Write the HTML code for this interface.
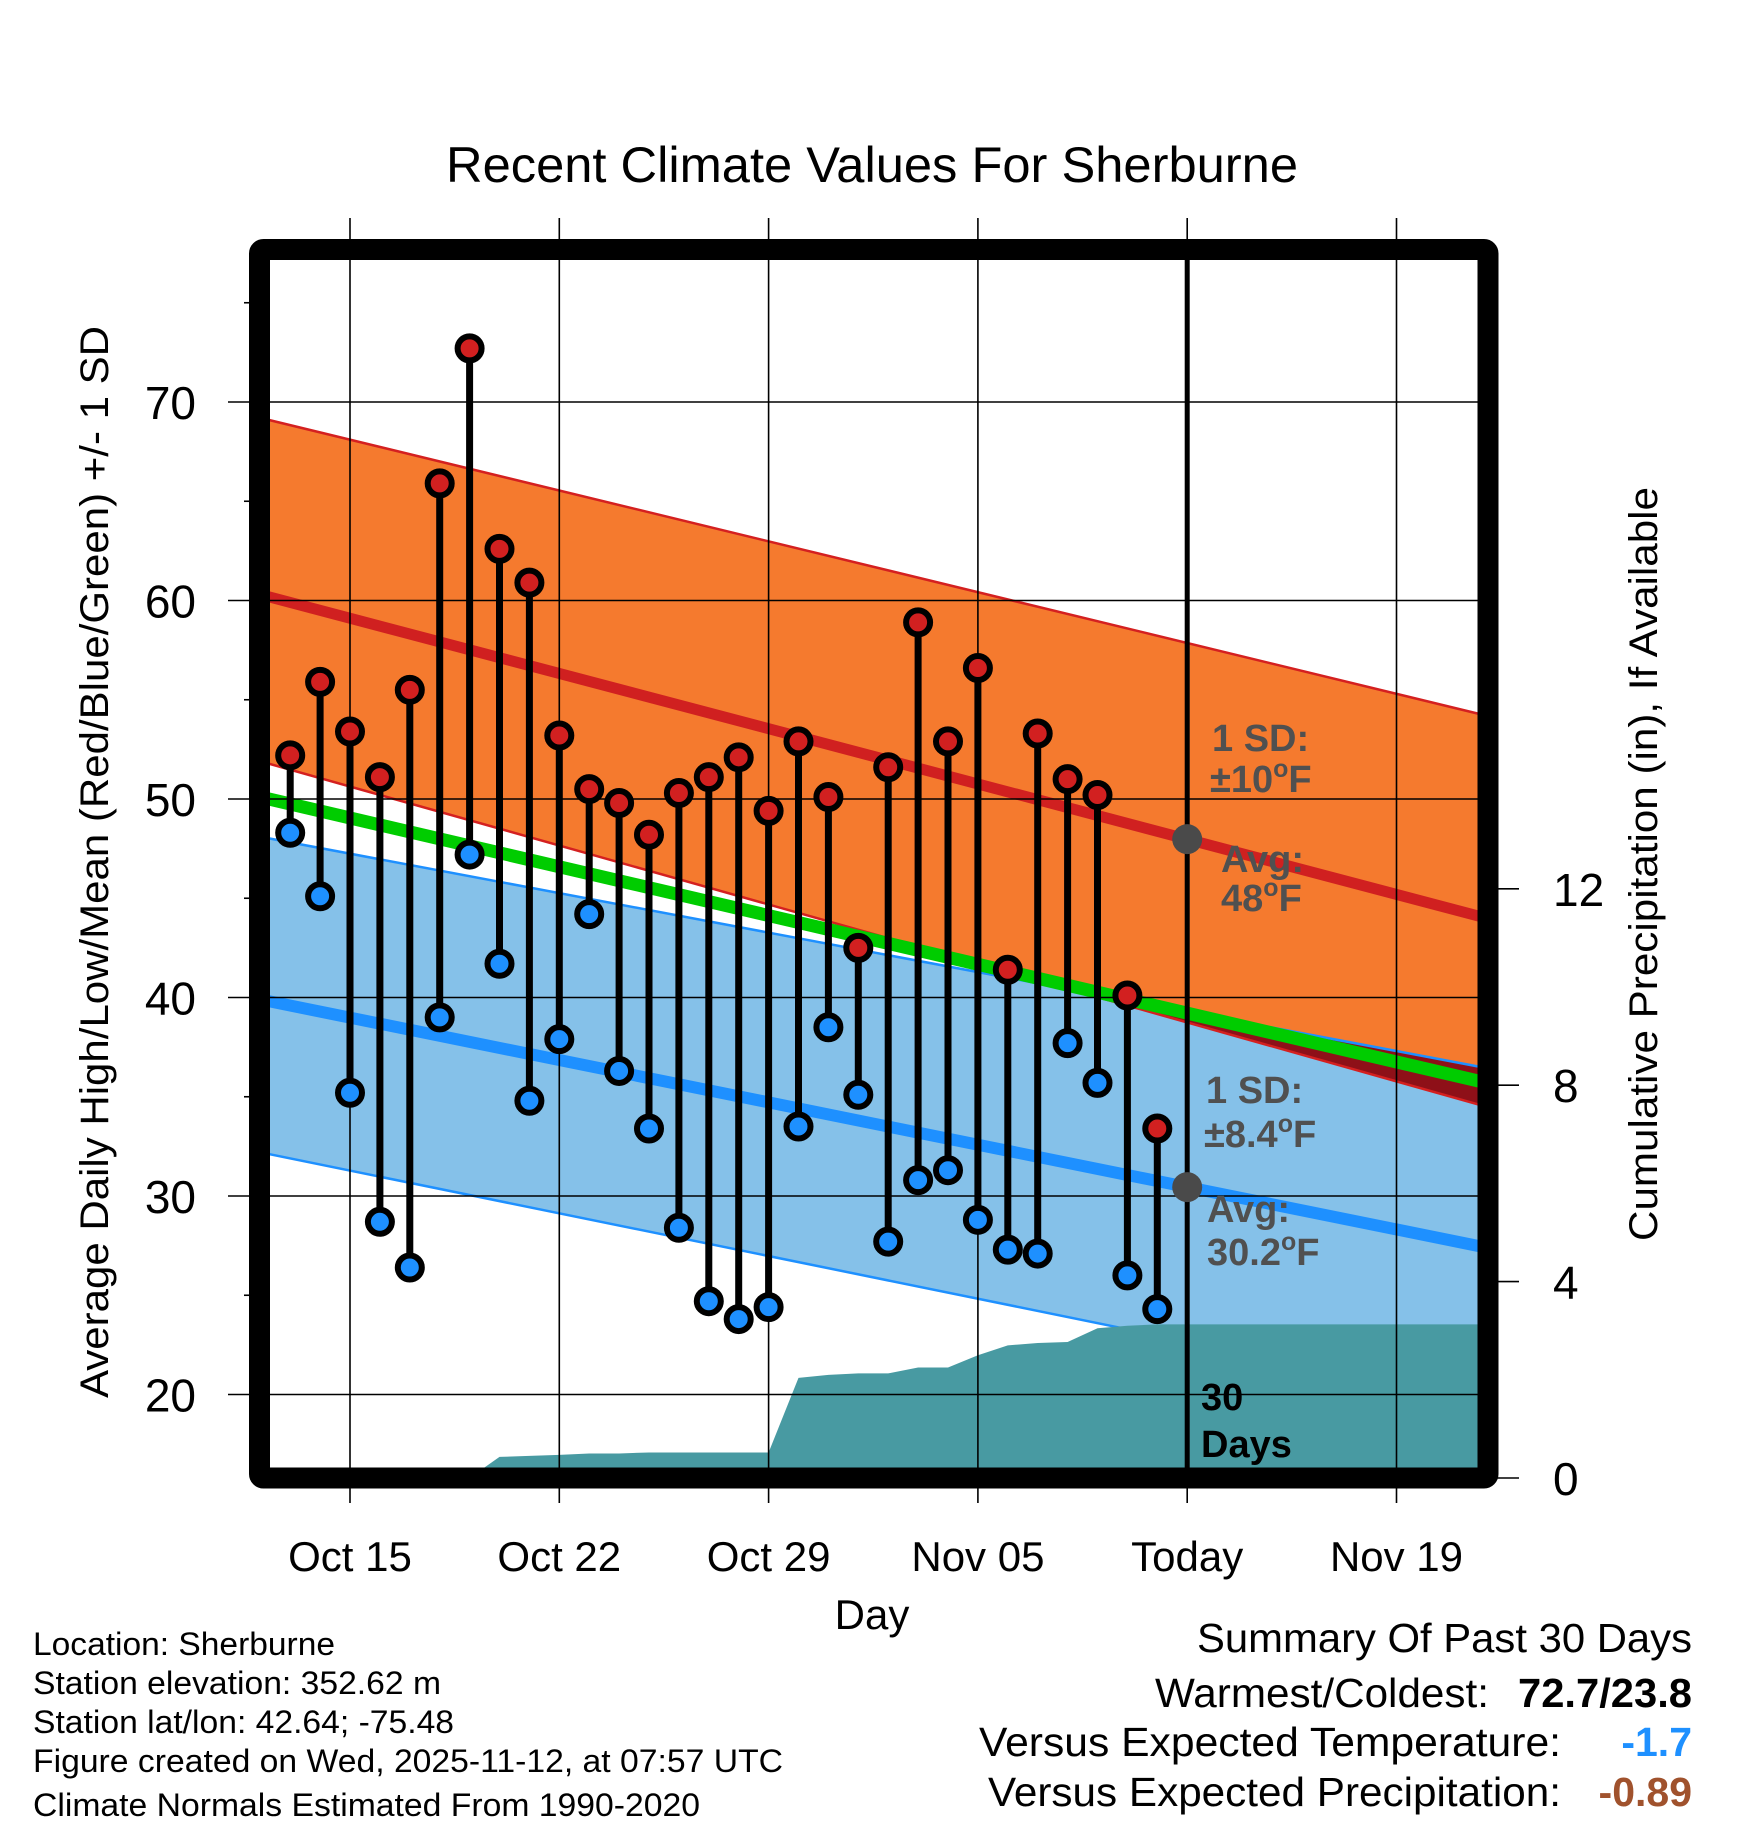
<!DOCTYPE html>
<html><head><meta charset="utf-8">
<style>html,body{margin:0;padding:0;background:#fff;}svg{display:block;font-family:"Liberation Sans",Arial,sans-serif;}</style>
</head><body>
<svg id="chart" width="1748" height="1828" viewBox="0 0 1748 1828" xmlns="http://www.w3.org/2000/svg">
<text x="872" y="182" font-size="50" text-anchor="middle" textLength="852" lengthAdjust="spacingAndGlyphs">Recent Climate Values For Sherburne</text>
<g id="layers"></g>
<text transform="translate(108,862) rotate(-90)" font-size="40" text-anchor="middle" textLength="1072" lengthAdjust="spacingAndGlyphs">Average Daily High/Low/Mean (Red/Blue/Green) +/- 1 SD</text>
<text transform="translate(1657,864) rotate(-90)" font-size="40" text-anchor="middle" textLength="754" lengthAdjust="spacingAndGlyphs">Cumulative Precipitation (in), If Available</text>
<text x="872" y="1629" font-size="42" text-anchor="middle">Day</text>
<g font-size="32">
<text x="33" y="1655" textLength="302" lengthAdjust="spacingAndGlyphs">Location: Sherburne</text>
<text x="33" y="1694" textLength="408" lengthAdjust="spacingAndGlyphs">Station elevation: 352.62 m</text>
<text x="33" y="1733" textLength="421" lengthAdjust="spacingAndGlyphs">Station lat/lon: 42.64; -75.48</text>
<text x="33" y="1772" textLength="750" lengthAdjust="spacingAndGlyphs">Figure created on Wed, 2025-11-12, at 07:57 UTC</text>
<text x="33" y="1816" textLength="667" lengthAdjust="spacingAndGlyphs">Climate Normals Estimated From 1990-2020</text>
</g>
<g font-size="41">
<text x="1692" y="1652" text-anchor="end" textLength="495" lengthAdjust="spacingAndGlyphs">Summary Of Past 30 Days</text>
<text x="1489" y="1707" text-anchor="end" textLength="334" lengthAdjust="spacingAndGlyphs">Warmest/Coldest:</text>
<text x="1692" y="1707" text-anchor="end" font-weight="bold" textLength="174" lengthAdjust="spacingAndGlyphs">72.7/23.8</text>
<text x="1561" y="1756" text-anchor="end" textLength="582" lengthAdjust="spacingAndGlyphs">Versus Expected Temperature:</text>
<text x="1692" y="1756" text-anchor="end" font-weight="bold" fill="#1e90ff">-1.7</text>
<text x="1561" y="1806" text-anchor="end" textLength="573" lengthAdjust="spacingAndGlyphs">Versus Expected Precipitation:</text>
<text x="1692" y="1806" text-anchor="end" font-weight="bold" fill="#a0522d">-0.89</text>
</g>
</svg>
<script>
// Data: day index 0 = Oct 12
const obsStartDay = 1; // Oct 13
const highs = [52.2,55.9,53.4,51.1,55.5,65.9,72.7,62.6,60.9,53.2,50.5,49.8,48.2,50.3,51.1,52.1,49.4,52.9,50.1,42.5,51.6,58.9,52.9,56.6,41.4,53.3,51.0,50.2,40.1,33.4];
const lows  = [48.3,45.1,35.2,28.7,26.4,39.0,47.2,41.7,34.8,37.9,44.2,36.3,33.4,28.4,24.7,23.8,24.4,33.5,38.5,35.1,27.7,30.8,31.3,28.8,27.3,27.1,37.7,35.7,26.0,24.3];
const precip = [0,0,0,0,0,0,0,0.43,0.45,0.47,0.50,0.50,0.52,0.52,0.52,0.52,0.52,2.04,2.10,2.13,2.13,2.25,2.25,2.50,2.70,2.75,2.77,3.05,3.10,3.13];
// Normals at left edge (Oct 12) and right edge (Nov 22)
const hiAvgEnds = [60.3, 44.0];
const hiUpperEnds = [69.2, 54.2];
const hiLowerEnds = [51.9, 34.5];
const loAvgEnds = [39.9, 27.4];
const loUpperEnds = [48.1, 36.45];
const loLowerEnds = [32.2, 19.6];
const xTickDays = [3,10,17,24,31,38];
const xTickLabels = ["Oct 15","Oct 22","Oct 29","Nov 05","Today","Nov 19"];
const yTicks = [20,30,40,50,60,70];
const yMinor = [25,35,45,55,65,75];
const y2Ticks = [0,4,8,12];
const todayDay = 31;
const dayMin = 0, dayMax = 41;

const X = d => 350 + (d - 3) * 29.9;
const Y = f => 402 + (70 - f) * 19.85;
const Y2 = p => 1478 - p * 49.1;
const NS = "http://www.w3.org/2000/svg";
const root = document.getElementById('layers');
function mk(tag, attrs, parent) {
  const e = document.createElementNS(NS, tag);
  for (const k in attrs) e.setAttribute(k, attrs[k]);
  (parent || root).appendChild(e);
  return e;
}
const lerp = (ends, d) => ends[0] + (ends[1] - ends[0]) * (d - dayMin) / (dayMax - dayMin);
const L = X(dayMin), R = X(dayMax);
function lineBetween(ends) { return [[L, Y(ends[0])], [R, Y(ends[1])]]; }
function band(up, lo) {
  return `${L},${Y(up[0])} ${R},${Y(up[1])} ${R},${Y(lo[1])} ${L},${Y(lo[0])}`;
}
const defs = mk('defs', {});
const cp = mk('clipPath', {id: 'plotclip'}, defs);
mk('rect', {x: L, y: 250, width: R - L, height: 1228}, cp);
const cpb = mk('clipPath', {id: 'blueclip'}, defs);
mk('polygon', {points: band(loUpperEnds, loLowerEnds)}, cpb);
const g = mk('g', {'clip-path': 'url(#plotclip)'});

const blue = mk('polygon', {points: band(loUpperEnds, loLowerEnds), fill: '#85c1e9'}, g);


const orange = mk('polygon', {points: band(hiUpperEnds, hiLowerEnds), fill: '#f57a2e'}, g);


const overlap = mk('polygon', {points: band(hiUpperEnds, hiLowerEnds), fill: '#8e1018', 'clip-path': 'url(#blueclip)'}, g);



function ln(ends, color, w, name) {
  const p = lineBetween(ends);
  const e = mk('line', {x1: p[0][0], y1: p[0][1], x2: p[1][0], y2: p[1][1], stroke: color, 'stroke-width': w}, g);
  
  
}
ln(hiUpperEnds, '#d42020', 2.5, 'high-upper-sd-line');
ln(hiLowerEnds, '#d42020', 2.5, 'high-lower-sd-line');
ln(loUpperEnds, '#1e90ff', 2.5, 'low-upper-sd-line');
ln(loLowerEnds, '#1e90ff', 2.5, 'low-lower-sd-line');
ln(hiAvgEnds, '#d02020', 11, 'avg-high-line');
ln(loAvgEnds, '#1e90ff', 12, 'avg-low-line');
ln([(hiAvgEnds[0]+loAvgEnds[0])/2, (hiAvgEnds[1]+loAvgEnds[1])/2], '#00cc00', 13, 'avg-mean-line');

xTickDays.forEach((d, i) => {
  const e = mk('line', {x1: X(d), y1: 218, x2: X(d), y2: 1503, stroke: '#000', 'stroke-width': 1.6});
  
  
  const t = mk('text', {x: X(d), y: 1571, 'font-size': 42, 'text-anchor': 'middle'});
  t.textContent = xTickLabels[i];
  
  
});
yTicks.forEach(v => {
  const e = mk('line', {x1: 228, y1: Y(v), x2: R, y2: Y(v), stroke: '#000', 'stroke-width': 1.6});
  
  
  const t = mk('text', {x: 196, y: Y(v) + 17, 'font-size': 46, 'text-anchor': 'end'});
  t.textContent = v;
  
  
});
yMinor.forEach(v => {
  const e = mk('line', {x1: 244, y1: Y(v), x2: 255, y2: Y(v), stroke: '#000', 'stroke-width': 1.6});
  
  
});
y2Ticks.forEach(v => {
  const e = mk('line', {x1: 1495, y1: Y2(v), x2: 1519, y2: Y2(v), stroke: '#000', 'stroke-width': 1.6});
  
  
  const t = mk('text', {x: 1553, y: Y2(v) + 17, 'font-size': 46});
  t.textContent = v;
  
  
});

let pts = `${X(obsStartDay)},${Y2(0)} `;
precip.forEach((p, i) => { pts += `${X(obsStartDay + i)},${Y2(p)} `; });
pts += `${R},${Y2(precip[precip.length - 1])} ${R},${Y2(0)}`;
const area = mk('polygon', {points: pts, fill: '#489aa2'}, g);



const tl = mk('line', {x1: X(todayDay), y1: 255, x2: X(todayDay), y2: 1480, stroke: '#000', 'stroke-width': 5});



highs.forEach((h, i) => {
  const x = X(obsStartDay + i), lo = lows[i];
  const s = mk('line', {x1: x, y1: Y(h), x2: x, y2: Y(lo), stroke: '#000', 'stroke-width': 7});
  
  
  const c1 = mk('circle', {cx: x, cy: Y(h), r: 12, fill: '#d22020', stroke: '#000', 'stroke-width': 6});
  
  
  const c2 = mk('circle', {cx: x, cy: Y(lo), r: 12, fill: '#1e90ff', stroke: '#000', 'stroke-width': 6});
  
  
});

[[lerp(hiAvgEnds, todayDay), 'today-avg-high-marker'], [lerp(loAvgEnds, todayDay), 'today-avg-low-marker']].forEach(a => {
  const c = mk('circle', {cx: X(todayDay), cy: Y(a[0]), r: 15, fill: '#4a4a4a'});
  
  
});

function label(x, y, main, sup, tail, name, color) {
  const t = mk('text', {x: x, y: y, 'font-size': 38, 'font-weight': 'bold', fill: color || '#505050'});
  
  
  t.appendChild(document.createTextNode(main));
  if (sup) {
    const s = mk('tspan', {'font-size': 25, dy: -15}, t); s.textContent = sup;
    const s2 = mk('tspan', {dy: 15}, t); s2.textContent = tail;
  }
}
label(1212, 751, '1 SD:', null, null, 'high-sd-label');
label(1210, 792, '\u00b110', 'o', 'F', 'high-sd-value');
label(1221, 872, 'Avg:', null, null, 'high-avg-label');
label(1221, 911, '48', 'o', 'F', 'high-avg-value');
label(1206, 1103, '1 SD:', null, null, 'low-sd-label');
label(1204, 1147, '\u00b18.4', 'o', 'F', 'low-sd-value');
label(1207, 1222, 'Avg:', null, null, 'low-avg-label');
label(1207, 1265, '30.2', 'o', 'F', 'low-avg-value');
label(1201, 1410, '30', null, null, 'days-count-label', '#000');
label(1201, 1457, 'Days', null, null, 'days-word-label', '#000');

const fr = mk('rect', {x: 259.5, y: 249.5, width: 1228.5, height: 1228.5, fill: 'none', stroke: '#000', 'stroke-width': 21, rx: 4});


</script>
</body></html>
